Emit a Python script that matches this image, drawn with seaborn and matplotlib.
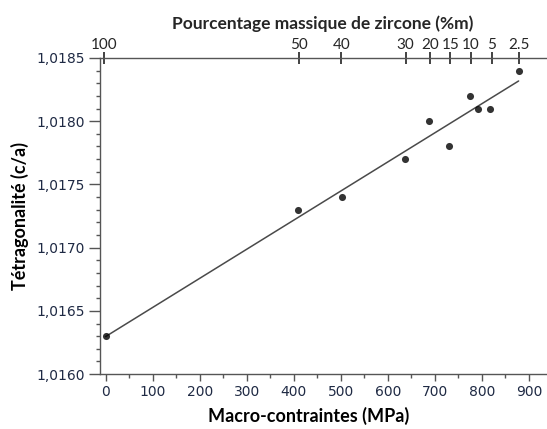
import pandas as pd
import seaborn as sns
import matplotlib.pyplot as plt
from matplotlib.ticker import MultipleLocator, FuncFormatter

# === DONNEES ===
contraintes = [0, 409, 502, 637, 688, 730, 774, 792, 817, 878]
tetragonalite = [1.0163, 1.0173, 1.0174, 1.0177, 1.0180, 1.0178, 1.0182, 1.0181, 1.0181, 1.0184]
zircone_pos = [-4, 412, 501, 638, 689, 733, 776, 821, 878]
zircone_labels = ['100', '50', '40', '30', '20', '15', '10', '5', '2.5']

df = pd.DataFrame({'contraintes': contraintes, 'c_a': tetragonalite})

sns.set_style('white')
plt.rcParams['font.family'] = ['DejaVu Sans']

fig = plt.figure(figsize=(5.47, 4.29), dpi=100)
ax = fig.add_axes([0.183, 0.128, 0.815, 0.737])

sns.regplot(data=df, x='contraintes', y='c_a', ci=None, ax=ax,
            scatter_kws=dict(s=26, color='black', linewidths=0, zorder=3),
            line_kws=dict(color='#4a4a4a', lw=1.1))

spine_col = '#555555'
tick_col = '#1f2a44'

ax.set_xlim(-11.7, 936)
ax.set_ylim(1.0160, 1.0185)
ax.set_xticks(range(0, 1000, 100))
ax.xaxis.set_minor_locator(MultipleLocator(50))
ax.yaxis.set_major_locator(MultipleLocator(0.0005))
ax.yaxis.set_minor_locator(MultipleLocator(0.0001))
ax.yaxis.set_major_formatter(FuncFormatter(lambda v, _: f'{v:.4f}'.replace('.', ',')))

ax.tick_params(which='major', direction='out', width=1, color=spine_col,
               labelsize=10, labelcolor=tick_col, bottom=True, left=True)
ax.tick_params(axis='y', which='major', length=8, pad=3)
ax.tick_params(axis='x', which='major', length=5, pad=3)
ax.tick_params(which='minor', direction='out', length=3, width=1, color=spine_col,
               bottom=True, left=True)

for s in ['right', 'top']:
    ax.spines[s].set_visible(False)
for s in ['left', 'bottom']:
    ax.spines[s].set_color(spine_col)
    ax.spines[s].set_linewidth(1)

ax.set_xlabel('Macro-contraintes (MPa)', family='Lato', fontweight='bold',
              fontsize=13, color='black')
ax.xaxis.set_label_coords(0.467, -0.105)
ax.set_ylabel('Tétragonalité (c/a)', family='Lato', fontweight='bold',
              fontsize=13, color='black', labelpad=5)

# === AXE DU HAUT ===
ax2 = ax.twiny()
ax2.set_xlim(ax.get_xlim())
ax2.set_xticks(zircone_pos)
ax2.set_xticklabels(zircone_labels, family='Lato', fontsize=11)
ax2.tick_params(direction='inout', length=9, width=1.2, color='#222222', pad=0)
for s in ['right', 'left', 'bottom']:
    ax2.spines[s].set_visible(False)
ax2.spines['top'].set_color(spine_col)
ax2.spines['top'].set_linewidth(1)
ax2.set_xlabel('Pourcentage massique de zircone (%m)', family='Lato',
               fontweight='bold', fontsize=12.5, labelpad=6)
ax2.grid(False)
ax.grid(False)

plt.savefig('out.png', dpi=100)
